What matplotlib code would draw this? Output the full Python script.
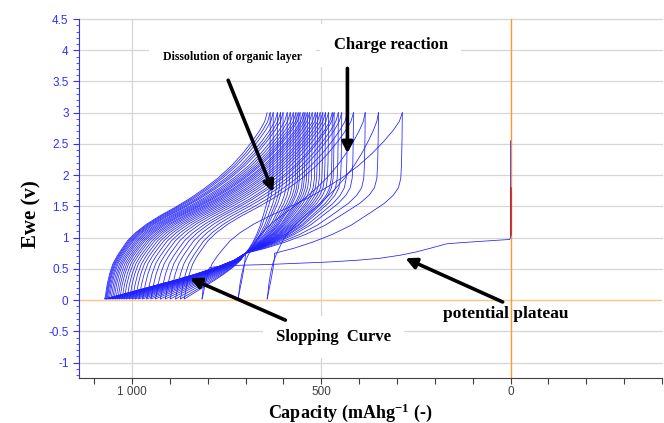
import numpy as np
import matplotlib.pyplot as plt
from matplotlib.ticker import MultipleLocator, FuncFormatter

plt.rcParams['mathtext.fontset'] = 'custom'
plt.rcParams['mathtext.rm'] = 'Liberation Serif:bold'
plt.rcParams['mathtext.default'] = 'rm'

# -------------------------
# DATA
# -------------------------
# first discharge: OCV drop at 0, then the potential plateau
first_dis_cap = [0, 0, 3, 30, 80, 130, 170, 212, 250, 290, 345, 400, 480, 560,
                 640, 700, 760, 795, 806, 812, 815]
first_dis_volt = [2.55, 1.0, 0.97, 0.96, 0.94, 0.92, 0.9, 0.83, 0.77, 0.72, 0.67,
                  0.64, 0.61, 0.59, 0.57, 0.56, 0.55, 0.52, 0.4, 0.2, 0.02]
rest_volt = [1.05, 1.8]  # short red segment at zero capacity

# end of each discharge (0.02 V) and end of each charge (3 V), cycle by cycle
bottom_cap = [815, 643, 720, 862, 872, 885, 899, 912, 925, 938, 950, 961, 972, 982,
              991, 999, 1007, 1014, 1021, 1027, 1033, 1038, 1043, 1048, 1052, 1056,
              1060, 1063, 1066, 1068, 1070, 1072]
top_cap = [286, 349, 384, 415, 431, 446, 455, 466, 471, 481, 489, 496, 503, 510,
           516, 524, 531, 537, 543, 548, 556, 561, 567, 574, 582, 590, 601, 608,
           616, 627, 635, 643]

# point where the discharge curves pinch together
cross_cap = 700
cross_volt = 0.75

# charge shape (fraction of the charge capacity -> voltage)
charge_frac = [0, 0.006, 0.015, 0.03, 0.05, 0.075, 0.1, 0.14, 0.19, 0.26, 0.34,
               0.43, 0.52, 0.61, 0.7, 0.78, 0.85, 0.91, 0.955, 0.985, 1.0]
charge_volt = [0.02, 0.1, 0.25, 0.42, 0.58, 0.7, 0.8, 0.95, 1.08, 1.22, 1.35, 1.48,
               1.62, 1.78, 1.96, 2.15, 2.35, 2.55, 2.72, 2.86, 3.0]

# discharge shape, top -> pinch point
dis_a_frac = [0, 0.002, 0.006, 0.012, 0.03, 0.07, 0.14, 0.25, 0.4, 0.55, 0.7, 0.85, 1.0]
dis_a_volt = [3.0, 2.6, 2.2, 1.95, 1.8, 1.68, 1.55, 1.4, 1.2, 1.05, 0.93, 0.83, 0.75]
# discharge shape, pinch point -> 0.02 V
dis_b_frac = [0, 0.08, 0.2, 0.35, 0.5, 0.65, 0.78, 0.88, 0.94, 0.98, 1.0]
dis_b_volt = [0.75, 0.64, 0.53, 0.42, 0.32, 0.23, 0.15, 0.09, 0.055, 0.03, 0.02]

# -------------------------
# FIGURE
# -------------------------
fig = plt.figure(figsize=(6.64, 4.23), dpi=100)
ax = fig.add_axes([0.119, 0.106, 0.878, 0.849])

blue = '#1f1fff'
lw = 0.55

ax.plot(first_dis_cap, first_dis_volt, color=blue, lw=lw, zorder=3)
ax.plot([0, 0], rest_volt, color='#cc1f1f', lw=1.1, zorder=4)

cf = np.array(charge_frac)
af = np.array(dis_a_frac)
bf = np.array(dis_b_frac)
for i in range(len(bottom_cap)):
    b = bottom_cap[i]
    t = top_cap[i]
    # charge: from bottom of this cycle up to 3 V
    ax.plot(b - cf * (b - t), charge_volt, color=blue, lw=lw, zorder=3)
    # next discharge: from 3 V down to the next bottom
    if i + 1 < len(bottom_cap):
        nb = bottom_cap[i + 1]
        xc = min(cross_cap, nb - 20)
        ax.plot(t + af * (xc - t), dis_a_volt, color=blue, lw=lw, zorder=3)
        ax.plot(xc + bf * (nb - xc), dis_b_volt, color=blue, lw=lw, zorder=3)

# -------------------------
# AXES STYLE
# -------------------------
ax.set_xlim(1140, -400)
ax.set_ylim(-1.25, 4.5)

for v in np.arange(-1, 4.51, 0.5):
    if v != 0:
        ax.axhline(v, color='#d6d6d6', lw=0.9, zorder=0, clip_on=False)
for v in [1000, 500]:
    ax.axvline(v, color='#d6d6d6', lw=0.9, zorder=0)
ax.axhline(0, color='#ffc48a', lw=1.0, zorder=1)
ax.axvline(0, color='#ff9a2a', lw=1.0, zorder=1)

for s in ['top', 'right']:
    ax.spines[s].set_visible(False)
ax.spines['left'].set_color('#3030ff')
ax.spines['bottom'].set_color('#404040')

ax.yaxis.set_major_locator(MultipleLocator(0.5))
ax.yaxis.set_minor_locator(MultipleLocator(0.1))
ax.yaxis.set_major_formatter(FuncFormatter(lambda v, p: f'{v:g}'))
ax.tick_params(axis='y', which='major', colors='#3030ff', length=4, labelsize=8.5)
ax.tick_params(axis='y', which='minor', colors='#3030ff', length=2)

ax.xaxis.set_major_locator(MultipleLocator(100))
ax.xaxis.set_major_formatter(FuncFormatter(
    lambda v, p: ('1 000' if round(v) == 1000 else f'{v:g}') if round(v) % 500 == 0 and v >= 0 else ''))
ax.tick_params(axis='x', which='major', colors='#404040', length=4, labelsize=8.5, pad=2)

for lab in ax.get_xticklabels() + ax.get_yticklabels():
    lab.set_fontfamily('Liberation Sans')

# -------------------------
# LABELS AND ANNOTATIONS
# -------------------------
serif = dict(family='Liberation Serif', weight='bold', color='black')

fig.text(31 / 664, 1 - 214 / 423, 'Ewe (v)', rotation=90, ha='center', va='center',
         fontsize=15, **serif)
fig.text(350 / 664, 1 - 418 / 423, 'Capacity (mAhg$^{-1}$ (-)', ha='center', va='baseline',
         fontsize=13, **serif)

ax.text(735, 3.89, 'Dissolution of organic layer', ha='center', va='center', fontsize=8.5,
        bbox=dict(facecolor='white', edgecolor='none', boxstyle='square,pad=1.2'),
        zorder=5, **serif)
box = dict(facecolor='white', edgecolor='none', boxstyle='square,pad=0.8')
ax.text(317, 4.08, 'Charge reaction', ha='center', va='center',
        fontsize=12, bbox=box, zorder=5, **serif)
ax.text(468, -0.59, 'Slopping  Curve', ha='center', va='center',
        fontsize=12, bbox=box, zorder=5, **serif)
ax.text(13, -0.22, 'potential plateau', ha='center', va='center',
        fontsize=12.5, zorder=5, **serif)

arrow = dict(arrowstyle='-|>', color='black', lw=2.6, mutation_scale=16, shrinkA=0, shrinkB=0)
ax.annotate('', xy=(627, 1.73), xytext=(746, 3.52), arrowprops=arrow, zorder=6)
ax.annotate('', xy=(431, 2.35), xytext=(431, 3.71), arrowprops=arrow, zorder=6)
ax.annotate('', xy=(847, 0.35), xytext=(595, -0.32), arrowprops=arrow, zorder=6)
ax.annotate('', xy=(278, 0.67), xytext=(21, -0.03), arrowprops=arrow, zorder=6)

fig.savefig('out.png', dpi=100)
